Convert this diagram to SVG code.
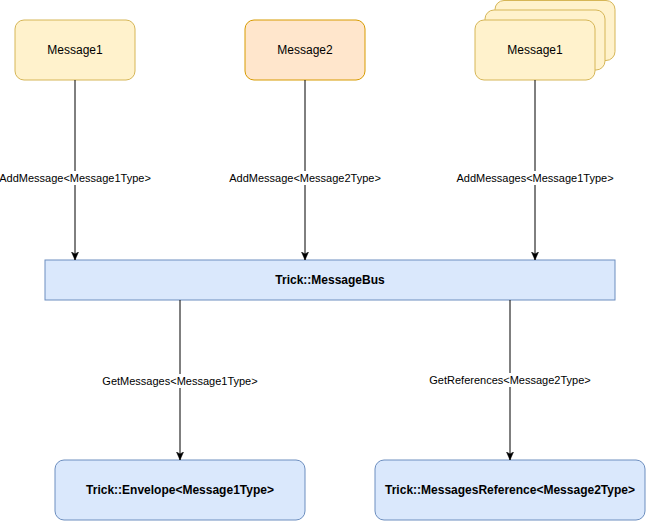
<svg xmlns="http://www.w3.org/2000/svg" width="647" height="522" viewBox="0 0 647 522">
<defs>
<style>
.yel{fill:#fff2cc;stroke:#d6b656;stroke-width:1}
.org{fill:#ffe6cc;stroke:#d79b00;stroke-width:1}
.blu{fill:#dae8fc;stroke:#6c8ebf;stroke-width:1}
.nt{font-family:"Liberation Sans",Arial,sans-serif;font-size:12px;fill:#000;text-anchor:middle;dominant-baseline:central}
.b{font-weight:bold}
.edge{stroke:#000;stroke-width:1;fill:none;marker-end:url(#arr)}
.lbg{fill:#fff}
.lt{font-family:"Liberation Sans",Arial,sans-serif;font-size:11px;fill:#000;text-anchor:middle;dominant-baseline:central}
</style>
<marker id="arr" viewBox="0 0 8 8" refX="8" refY="4" markerWidth="8" markerHeight="8" markerUnits="userSpaceOnUse" orient="auto">
<path d="M0,0.5 L8,4 L0,7.5 L2,4 Z" fill="#000" stroke="#000" stroke-width="0.5"/>
</marker>
</defs>
<g id="msg1">
<rect class="yel" x="15" y="20" width="120" height="60" rx="9"/>
<text class="nt" x="75" y="50">Message1</text>
</g>
<g id="msg2">
<rect class="org" x="245" y="20" width="120" height="60" rx="9"/>
<text class="nt" x="305" y="50">Message2</text>
</g>
<g id="msg1stack">
<rect class="yel" x="495" y="0.5" width="120" height="60" rx="9"/>
<rect class="yel" x="485" y="10" width="120" height="60" rx="9"/>
<rect class="yel" x="475" y="20" width="120" height="60" rx="9"/>
<text class="nt" x="535" y="50">Message1</text>
</g>
<g id="bus">
<rect class="blu" x="45" y="260" width="570" height="40"/>
<text class="nt b" x="330" y="280">Trick::MessageBus</text>
</g>
<g id="envelope">
<rect class="blu" x="55" y="460" width="250" height="60" rx="9"/>
<text class="nt b" x="180" y="490">Trick::Envelope&lt;Message1Type&gt;</text>
</g>
<g id="msgref">
<rect class="blu" x="375" y="460" width="270" height="60" rx="9"/>
<text class="nt b" x="510" y="490">Trick::MessagesReference&lt;Message2Type&gt;</text>
</g>
<g id="connectors">
<path class="edge" d="M75,80 V260"/>
<path class="edge" d="M305,80 V260"/>
<path class="edge" d="M535,80 V260"/>
<path class="edge" d="M180,300 V460"/>
<path class="edge" d="M510,300 V460"/>
<rect class="lbg" x="0" y="171" width="151" height="14"/>
<text class="lt" x="75" y="178">AddMessage&lt;Message1Type&gt;</text>
<rect class="lbg" x="229" y="171" width="152" height="14"/>
<text class="lt" x="305" y="178">AddMessage&lt;Message2Type&gt;</text>
<rect class="lbg" x="456" y="171" width="158" height="14"/>
<text class="lt" x="535" y="178">AddMessages&lt;Message1Type&gt;</text>
<rect class="lbg" x="102" y="374" width="156" height="14"/>
<text class="lt" x="180" y="381">GetMessages&lt;Message1Type&gt;</text>
<rect class="lbg" x="429" y="373" width="162" height="14"/>
<text class="lt" x="510" y="380">GetReferences&lt;Message2Type&gt;</text>
</g>
</svg>
